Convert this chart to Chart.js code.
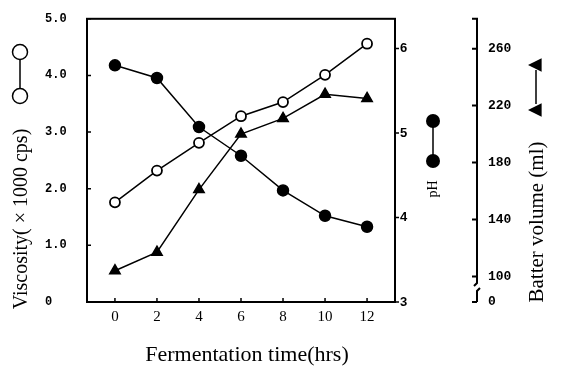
<!DOCTYPE html>
<html>
<head>
<meta charset="utf-8">
<script src="https://cdn.jsdelivr.net/npm/chart.js@4"></script>
<style>
  html, body { margin: 0; padding: 0; background: #fff; }
  #wrap { width: 561px; height: 373px; }
</style>
</head>
<body>
<div id="wrap"><canvas id="fermChart" width="561" height="373"></canvas></div>
<script>
// data
var hours = [0, 2, 4, 6, 8, 10, 12];
var viscosity = [1.76, 2.32, 2.81, 3.28, 3.53, 4.01, 4.56];   // x1000 cps
var ph = [5.80, 5.65, 5.07, 4.73, 4.32, 4.02, 3.89];
var batterVolume = [104, 117, 161, 200, 211, 228, 225];      // ml

var viscTicks = [0, 1, 2, 3, 4, 5];
var phTicks = [3, 4, 5, 6];
var volTicks = [82, 100, 140, 180, 220, 260];   // 82 = broken axis, shown as "0"

function points(ys) {
    var out = [];
    for (var i = 0; i < hours.length; i++) {
        out.push({x: hours[i], y: ys[i]});
    }
    return out;
}

function setTicks(list) {
    return function(scale) {
        scale.ticks = list.map(function(v) { return {value: v}; });
    };
}

function fixSize(w, h) {
    return function(scale) {
        if (w) scale.width = w;
        if (h) scale.height = h;
    };
}

var serif = "'Liberation Serif', 'Times New Roman', serif";
var mono = "'Liberation Mono', 'Courier New', monospace";

function triangleLeft(ctx, x, y, r) {
    ctx.beginPath();
    ctx.moveTo(x - r, y);
    ctx.lineTo(x + r * 0.7, y - r * 0.85);
    ctx.lineTo(x + r * 0.7, y + r * 0.85);
    ctx.closePath();
    ctx.fill();
}

// axis frame, tick marks, the axis break, titles and the little key symbols
var decorations = {
    id: 'decorations',
    afterDraw: function(chart) {
        var ctx = chart.ctx;
        var a = chart.chartArea;
        var sx = chart.scales.x, sv = chart.scales.y, sp = chart.scales.yPH, sb = chart.scales.yVol;
        ctx.save();
        ctx.strokeStyle = '#000';
        ctx.fillStyle = '#000';
        ctx.lineWidth = 2;
        ctx.strokeRect(a.left, a.top, a.right - a.left, a.bottom - a.top);

        ctx.lineWidth = 1.5;
        ctx.beginPath();
        viscTicks.forEach(function(v) {
            var y = sv.getPixelForValue(v);
            ctx.moveTo(a.left, y); ctx.lineTo(a.left + 4, y);
        });
        hours.forEach(function(h) {
            var x = sx.getPixelForValue(h);
            ctx.moveTo(x, a.bottom); ctx.lineTo(x, a.bottom - 4);
        });
        phTicks.forEach(function(v) {
            var y = sp.getPixelForValue(v);
            ctx.moveTo(a.right, y); ctx.lineTo(a.right + 4, y);
        });
        ctx.stroke();

        // batter volume axis with a break near the bottom
        var bx = sb.left;
        var yBreak = sb.getPixelForValue(volTicks[0]) - 17;
        ctx.lineWidth = 2;
        ctx.beginPath();
        ctx.moveTo(bx - 5, a.top); ctx.lineTo(bx, a.top);
        ctx.lineTo(bx, yBreak - 2);
        ctx.lineTo(bx - 3, yBreak + 1);
        ctx.moveTo(bx + 3, yBreak + 3);
        ctx.lineTo(bx, yBreak + 6);
        ctx.lineTo(bx, a.bottom);
        volTicks.forEach(function(v) {
            var y = sb.getPixelForValue(v);
            ctx.moveTo(bx, y); ctx.lineTo(bx - 5, y);
        });
        ctx.stroke();

        // titles
        ctx.textAlign = 'center';
        ctx.textBaseline = 'middle';
        ctx.font = '22px ' + serif;
        ctx.fillText('Fermentation time(hrs)', 247, 355);

        ctx.save();
        ctx.translate(22, 219);
        ctx.rotate(-Math.PI / 2);
        ctx.font = '20px ' + serif;
        ctx.fillText('Viscosity( \u00d7 1000 cps)', 0, 0);
        ctx.restore();

        ctx.save();
        ctx.translate(433, 189);
        ctx.rotate(-Math.PI / 2);
        ctx.font = '14px ' + serif;
        ctx.fillText('pH', 0, 0);
        ctx.restore();

        ctx.save();
        ctx.translate(537, 222);
        ctx.rotate(-Math.PI / 2);
        ctx.font = '21px ' + serif;
        ctx.fillText('Batter volume (ml)', 0, 0);
        ctx.restore();

        // key symbols next to the titles
        ctx.lineWidth = 1.5;
        ctx.beginPath();
        ctx.moveTo(20, 52); ctx.lineTo(20, 96);
        ctx.moveTo(433, 121); ctx.lineTo(433, 161);
        ctx.moveTo(536, 70); ctx.lineTo(536, 104);
        ctx.stroke();
        [52, 96].forEach(function(y) {
            ctx.beginPath();
            ctx.arc(20, y, 7.5, 0, Math.PI * 2);
            ctx.fillStyle = '#fff';
            ctx.fill();
            ctx.stroke();
        });
        ctx.fillStyle = '#000';
        [121, 161].forEach(function(y) {
            ctx.beginPath();
            ctx.arc(433, y, 7, 0, Math.PI * 2);
            ctx.fill();
        });
        triangleLeft(ctx, 536, 65, 8);
        triangleLeft(ctx, 536, 110, 8);
        ctx.restore();
    }
};

var ctx = document.getElementById('fermChart');

var fermChart = new Chart(ctx, {
    type: 'line',
    data: {
        datasets: [{
            label: 'Viscosity',
            data: points(viscosity),
            yAxisID: 'y',
            borderColor: '#000',
            borderWidth: 1.5,
            pointStyle: 'circle',
            pointRadius: 5,
            pointBorderWidth: 1.8,
            pointBackgroundColor: '#fff',
            pointBorderColor: '#000'
        }, {
            label: 'pH',
            data: points(ph),
            yAxisID: 'yPH',
            borderColor: '#000',
            borderWidth: 1.5,
            pointStyle: 'circle',
            pointRadius: 5.5,
            pointBackgroundColor: '#000',
            pointBorderColor: '#000'
        }, {
            label: 'Batter volume',
            data: points(batterVolume),
            yAxisID: 'yVol',
            borderColor: '#000',
            borderWidth: 1.5,
            pointStyle: 'triangle',
            pointRadius: 6,
            pointBackgroundColor: '#000',
            pointBorderColor: '#000'
        }]
    },
    options: {
        responsive: false,
        animation: false,
        layout: {
            padding: {left: 45, top: 17, right: 0, bottom: 0}
        },
        plugins: {
            legend: { display: false },
            tooltip: { enabled: false }
        },
        scales: {
            x: {
                type: 'linear',
                min: -1.33,
                max: 13.33,
                afterBuildTicks: setTicks(hours),
                afterFit: fixSize(null, 71),
                grid: { display: false, drawTicks: false },
                border: { display: false },
                ticks: {
                    color: '#000',
                    padding: 6,
                    maxRotation: 0,
                    autoSkip: false,
                    font: { family: serif, size: 15 }
                }
            },
            y: {
                position: 'left',
                min: 0,
                max: 5,
                afterBuildTicks: setTicks(viscTicks),
                afterFit: fixSize(42, null),
                grid: { display: false, drawTicks: false },
                border: { display: false },
                ticks: {
                    color: '#000',
                    crossAlign: 'far',
                    font: { family: mono, size: 12, weight: 'bold' },
                    callback: function(v) { return v === 0 ? '0' : v.toFixed(1); }
                }
            },
            yPH: {
                position: 'right',
                weight: 0,
                min: 3,
                max: 6.35,
                afterBuildTicks: setTicks(phTicks),
                afterFit: fixSize(82, null),
                grid: { display: false, drawTicks: false },
                border: { display: false },
                ticks: {
                    color: '#000',
                    padding: 5,
                    font: { family: "'Liberation Sans', Arial, sans-serif", size: 13, weight: 'bold' }
                }
            },
            yVol: {
                position: 'right',
                weight: 1,
                min: 82,
                max: 281,
                afterBuildTicks: setTicks(volTicks),
                afterFit: fixSize(84, null),
                grid: { display: false, drawTicks: false },
                border: { display: false },
                ticks: {
                    color: '#000',
                    padding: 11,
                    font: { family: mono, size: 13, weight: 'bold' },
                    callback: function(v) { return v === volTicks[0] ? '0' : v; }
                }
            }
        }
    },
    plugins: [decorations]
});
</script>
</body>
</html>
